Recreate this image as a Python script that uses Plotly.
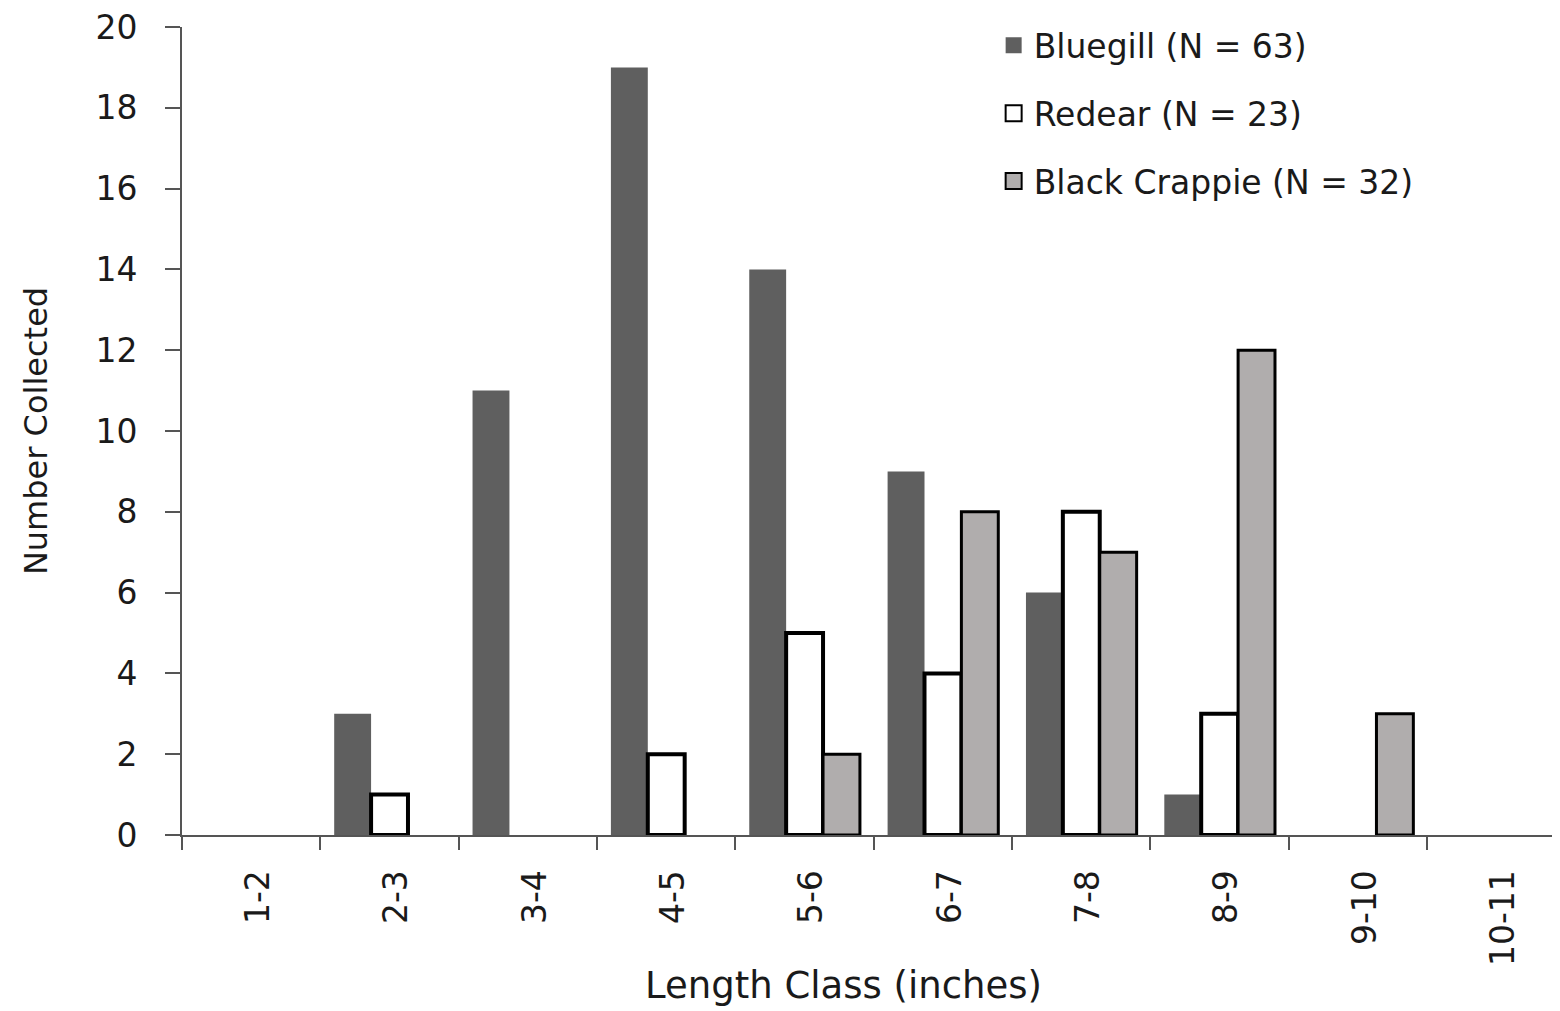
import plotly.graph_objects as go

categories = ["1-2", "2-3", "3-4", "4-5", "5-6", "6-7", "7-8", "8-9", "9-10", "10-11"]
bluegill = [0, 3, 11, 19, 14, 9, 6, 1, 0, 0]
redear = [0, 1, 0, 2, 5, 4, 8, 3, 0, 0]
crappie = [0, 0, 0, 0, 2, 8, 7, 12, 3, 0]
series_names = ["Bluegill (N = 63)", "Redear (N = 23)", "Black Crappie (N = 32)"]
y_ticks = list(range(0, 21, 2))

FONT = "DejaVu Sans"
TXT = "#1a1a1a"

fills = ["#5f5f5f", "#ffffff", "#b0adad"]
edges = [0, 4, 3]


def drawn(values):
    # zero counts draw no bar (so no outline shows on the axis)
    return [v if v > 0 else None for v in values]


fig = go.Figure()
for name, vals, fill, edge, grp in zip(series_names, [bluegill, redear, crappie], fills, edges, "abc"):
    fig.add_trace(go.Bar(
        x=categories, y=drawn(vals), name=name,
        marker=dict(color=fill, line=dict(color="#000000", width=edge)),
        legendgroup=grp, showlegend=False,
    ))
# legend entries with larger square swatches
for name, fill, edge, grp in zip(series_names, fills, edges, "abc"):
    fig.add_trace(go.Scatter(
        x=[None], y=[None], mode="markers", name=name,
        marker=dict(symbol="square", size=16, color=fill,
                    line=dict(color="#000000", width=min(edge, 2))),
        legendgroup=grp, showlegend=True, hoverinfo="skip",
    ))

fig.update_layout(
    width=1552, height=1003,
    margin=dict(l=174, r=0, t=17, b=176),
    paper_bgcolor="white", plot_bgcolor="white",
    barmode="group", bargap=0.2, bargroupgap=0,
    font=dict(family=FONT, size=33, color=TXT),
    showlegend=True,
    legend=dict(
        x=0.589, y=1.012, xanchor="left", yanchor="top",
        font=dict(family=FONT, size=33, color=TXT),
        tracegroupgap=22, bgcolor="rgba(0,0,0,0)", itemsizing="trace",
    ),
    xaxis=dict(
        type="category", categoryorder="array", categoryarray=categories,
        range=[-0.5, 9.46],
        showline=True, linecolor="#555555", linewidth=2,
        ticks="outside", ticklen=13, tickwidth=2, tickcolor="#555555",
        tickson="boundaries", tickangle=-90,
        ticklabelstandoff=20, ticklabelshift=7,
        tickfont=dict(family=FONT, size=33, color=TXT),
        showgrid=False, zeroline=False,
    ),
    yaxis=dict(
        range=[0, 20], tickvals=y_ticks,
        showline=True, linecolor="#555555", linewidth=2,
        ticks="outside", ticklen=15, tickwidth=2, tickcolor="#555555",
        ticklabelstandoff=21, ticklabeloverflow="allow",
        tickfont=dict(family=FONT, size=33, color=TXT),
        showgrid=False, zeroline=False,
        title=dict(text="Number Collected", font=dict(family=FONT, size=32, color=TXT), standoff=38),
    ),
    annotations=[dict(
        text="Length Class (inches)", xref="paper", yref="paper",
        x=(843 - 182) / 1378, y=-(986 - 835) / 810, xanchor="center", yanchor="middle",
        showarrow=False, font=dict(family=FONT, size=37, color=TXT),
    )],
)

fig.write_html("out.html")
